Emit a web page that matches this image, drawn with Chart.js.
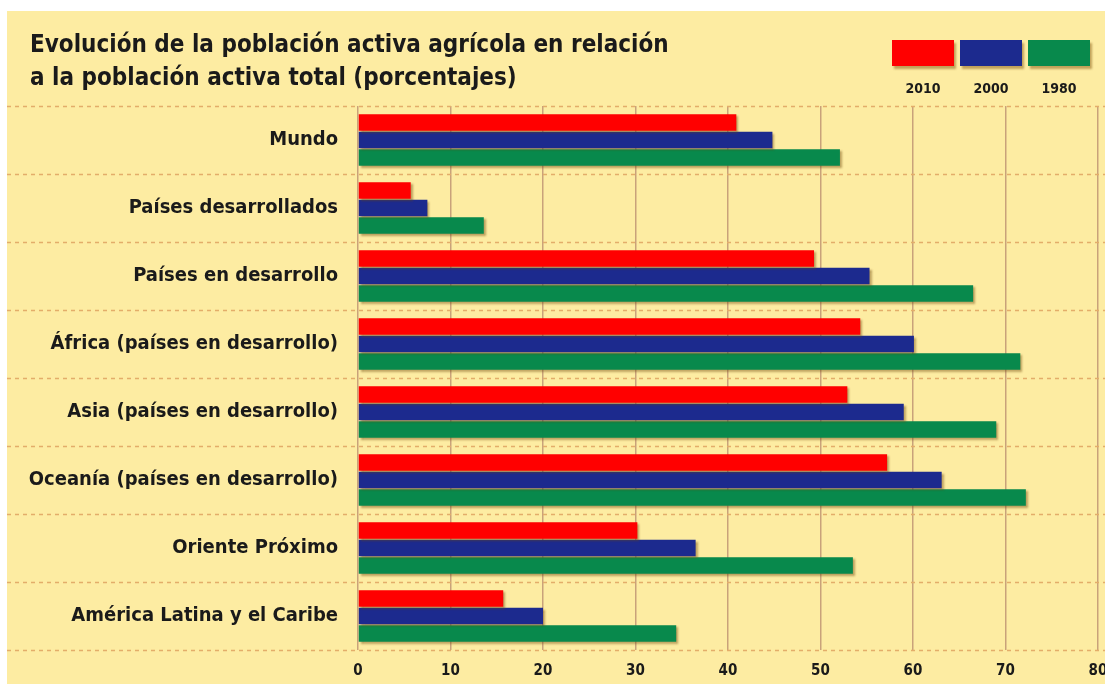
<!DOCTYPE html>
<html>
<head>
<meta charset="utf-8">
<script src="https://cdn.jsdelivr.net/npm/chart.js@4"></script>
<style>
  html, body { margin: 0; padding: 0; background: #fff; }
  #wrap { width: 1105px; height: 684px; }
</style>
</head>
<body>
<div id="wrap"><canvas id="grafico"></canvas></div>
<script>
var regiones = ['Mundo', 'Países desarrollados', 'Países en desarrollo', 'África (países en desarrollo)',
  'Asia (países en desarrollo)', 'Oceanía (países en desarrollo)', 'Oriente Próximo', 'América Latina y el Caribe'];
var anios = ['2010', '2000', '1980'];
var v2010 = [40.9, 5.7, 49.3, 54.3, 52.9, 57.2, 30.2, 15.7];
var v2000 = [44.8, 7.5, 55.3, 60.1, 59.0, 63.1, 36.5, 20.0];
var v1980 = [52.1, 13.6, 66.5, 71.6, 69.0, 72.2, 53.5, 34.4];
var titulo = ['Evolución de la población activa agrícola en relación', 'a la población activa total (porcentajes)'];
var colores = ['#ff0000', '#1c2a8e', '#08894c'];

var fuente = '"DejaVu Sans Condensed", "DejaVu Sans", sans-serif';

// fondo, titulo, leyenda y lineas horizontales punteadas
var decoracion = {
  id: 'decoracion',
  beforeDraw: function (chart) {
    var ctx = chart.ctx;
    ctx.save();
    ctx.fillStyle = '#ffffff';
    ctx.fillRect(0, 0, chart.width, chart.height);
    ctx.fillStyle = '#fdeca2';
    ctx.fillRect(7, 11, chart.width - 7, chart.height - 11);
    ctx.restore();
  },
  beforeDatasetsDraw: function (chart) {
    var ctx = chart.ctx;
    var y = chart.scales.y;
    var paso = (y.getPixelForValue(1) - y.getPixelForValue(0)) / 2;
    ctx.save();
    ctx.strokeStyle = '#e3ad6a';
    ctx.lineWidth = 1.5;
    ctx.setLineDash([4, 4]);
    for (var i = 0; i <= regiones.length; i++) {
      var py = Math.round(y.getPixelForValue(i) - paso) + 0.5;
      ctx.beginPath();
      ctx.moveTo(7, py);
      ctx.lineTo(chart.width, py);
      ctx.stroke();
    }
    ctx.restore();
  },
  afterDraw: function (chart) {
    var ctx = chart.ctx;
    ctx.save();
    ctx.fillStyle = '#1a1a1a';
    ctx.font = 'bold 24px ' + fuente;
    ctx.textBaseline = 'alphabetic';
    ctx.fillText(titulo[0], 30, 52);
    ctx.fillText(titulo[1], 30, 85);
    var x0 = 892;
    chart.data.datasets.forEach(function (ds, i) {
      var bx = x0 + i * 68;
      ctx.shadowColor = 'rgba(120,70,0,0.45)';
      ctx.shadowOffsetX = 2;
      ctx.shadowOffsetY = 3;
      ctx.shadowBlur = 2;
      ctx.fillStyle = ds.backgroundColor;
      ctx.fillRect(bx, 40, 62, 26);
      ctx.shadowColor = 'transparent';
      ctx.fillStyle = '#1a1a1a';
      ctx.font = 'bold 14px ' + fuente;
      ctx.textAlign = 'center';
      ctx.fillText(ds.label, bx + 31, 93);
    });
    ctx.restore();
  }
};

var sombra = {
  id: 'sombra',
  beforeDatasetsDraw: function (chart) {
    var ctx = chart.ctx;
    ctx.save();
    ctx.shadowColor = 'rgba(110,70,10,0.45)';
    ctx.shadowOffsetX = 2;
    ctx.shadowOffsetY = 2;
    ctx.shadowBlur = 2;
  },
  afterDatasetsDraw: function (chart) {
    chart.ctx.restore();
  }
};

var valores = [v2010, v2000, v1980];
var data = {
  labels: regiones,
  datasets: anios.map(function (a, i) {
    return {
      label: a,
      data: valores[i],
      backgroundColor: colores[i],
      borderWidth: 0,
      categoryPercentage: 0.77,
      barPercentage: 0.94
    };
  })
};

var options = {
  indexAxis: 'y',
  responsive: false,
  animation: false,
  layout: { padding: { top: 106, right: 7, left: 7, bottom: 0 } },
  plugins: {
    legend: { display: false },
    title: { display: false },
    tooltip: { enabled: false }
  },
  scales: {
    x: {
      min: 0,
      max: 80,
      ticks: {
        stepSize: 10,
        color: '#1a1a1a',
        padding: 12,
        font: { family: fuente, weight: 'bold', size: 15 }
      },
      grid: { color: '#c9a27a', lineWidth: 1.5, drawTicks: false },
      border: { display: false },
      afterFit: function (scale) {
        scale.height = 34;
        scale.paddingRight = 0;
      }
    },
    y: {
      ticks: {
        color: '#1a1a1a',
        padding: 12,
        font: { family: fuente, weight: 'bold', size: 20 }
      },
      grid: { display: false },
      border: { display: false },
      afterFit: function (scale) { scale.width = 351; }
    }
  }
};

var canvas = document.getElementById('grafico');
canvas.width = 1105;
canvas.height = 684;
var grafico = new Chart(canvas.getContext('2d'), {
  type: 'bar',
  data: data,
  options: options,
  plugins: [decoracion, sombra]
});
</script>
</body>
</html>
